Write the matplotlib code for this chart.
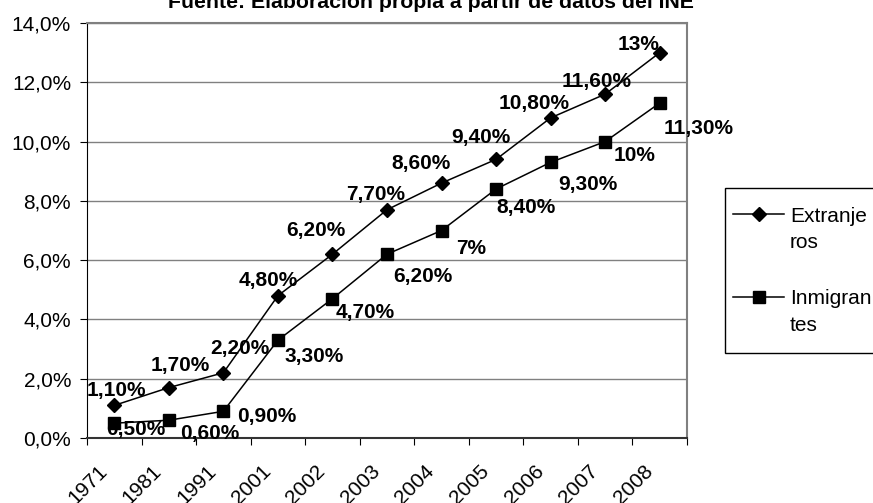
import matplotlib.pyplot as plt
import numpy as np
from matplotlib.lines import Line2D
from matplotlib.patches import Rectangle
from matplotlib.transforms import ScaledTranslation

plt.rcParams['font.family'] = ['Liberation Sans', 'DejaVu Sans']

years = ['1971', '1981', '1991', '2001', '2002', '2003', '2004',
         '2005', '2006', '2007', '2008']
extranjeros = [1.1, 1.7, 2.2, 4.8, 6.2, 7.7, 8.6, 9.4, 10.8, 11.6, 13.0]
inmigrantes = [0.5, 0.6, 0.9, 3.3, 4.7, 6.2, 7.0, 8.4, 9.3, 10.0, 11.3]
ext_labels = ['1,10%', '1,70%', '2,20%', '4,80%', '6,20%', '7,70%', '8,60%',
              '9,40%', '10,80%', '11,60%', '13%']
inm_labels = ['0,50%', '0,60%', '0,90%', '3,30%', '4,70%', '6,20%', '7%',
              '8,40%', '9,30%', '10%', '11,30%']
yticks = [0, 2, 4, 6, 8, 10, 12, 14]
ytick_labels = ['0,0%', '2,0%', '4,0%', '6,0%', '8,0%', '10,0%', '12,0%', '14,0%']

# label offsets in pixels (dx right, dy down)
ext_off = [(2, -15), (11, -22), (17, -24), (-10, -15), (-17, -24), (-11, -15),
           (-21, -20), (-15, -22), (-17, -14), (-9, -13), (-21, -8)]
inm_off = [(21, 6), (41, 13), (43, 5), (36, 16), (33, 14), (36, 22),
           (30, 18), (30, 19), (37, 22), (29, 14), (39, 25)]

W, H = 873, 503
fig = plt.figure(figsize=(W / 100, H / 100), dpi=100)
ax = fig.add_axes([87 / W, 1 - 438 / H, 600 / W, 415 / H])

x = np.arange(len(years))
ax.plot(x, extranjeros, color='black', lw=1.1, marker='D', ms=7, zorder=3)
ax.plot(x, inmigrantes, color='black', lw=1.1, marker='s', ms=8.5, zorder=3)

fs = 15
for xi, v, lab, (dx, dy) in zip(x, extranjeros, ext_labels, ext_off):
    ax.annotate(lab, (xi, v), xytext=(dx * 0.72, -dy * 0.72), textcoords='offset points',
                ha='center', va='center', fontsize=fs, fontweight='bold', zorder=4)
for xi, v, lab, (dx, dy) in zip(x, inmigrantes, inm_labels, inm_off):
    ax.annotate(lab, (xi, v), xytext=(dx * 0.72, -dy * 0.72), textcoords='offset points',
                ha='center', va='center', fontsize=fs, fontweight='bold', zorder=4)

ax.set_xlim(-0.5, len(years) - 0.5)
ax.set_ylim(0, 14)
ax.set_yticks(yticks)
ax.set_yticklabels(ytick_labels, fontsize=fs)
ax.yaxis.grid(True, color='#808080', lw=1)
ax.set_axisbelow(True)

ax.set_xticks(np.arange(-0.5, len(years), 1))
ax.set_xticklabels([])
ax.set_xticks(x, minor=True)
ax.set_xticklabels(years, minor=True, rotation=45, ha='right', va='center',
                   rotation_mode='anchor', fontsize=fs)
ax.tick_params(axis='x', which='minor', length=0, pad=22)
ax.tick_params(axis='both', which='major', direction='out', length=5, color='black')
ax.tick_params(axis='y', pad=6.5)
for lbl in ax.get_xticklabels(minor=True):
    lbl.set_transform(lbl.get_transform() + ScaledTranslation(-0.10, 0, fig.dpi_scale_trans))

for s in ['top', 'right']:
    ax.spines[s].set_color('#808080')
    ax.spines[s].set_linewidth(1.5)
ax.spines['left'].set_color('black')
ax.spines['bottom'].set_color('#333333')
ax.spines['bottom'].set_linewidth(1.5)

fig.text(431 / W, 1 - 8 / H, 'Fuente: Elaboración propia a partir de datos del INE',
         ha='center', va='baseline', fontsize=15.3, fontweight='bold')

# legend
fig.add_artist(Rectangle((725 / W, 1 - 353 / H), 0.3, 165 / H, transform=fig.transFigure,
                         facecolor='white', edgecolor='black', lw=1))
rows = [(('Extranje', 'ros'), 'D', 7, 214, (222, 248)),
        (('Inmigran', 'tes'), 's', 8.5, 297, (304, 331))]
for lines, mk, ms, yp, bases in rows:
    fy = 1 - yp / H
    fig.add_artist(Line2D([733 / W, 784 / W], [fy, fy], transform=fig.transFigure,
                          color='black', lw=1.1))
    fig.add_artist(Line2D([759 / W], [fy], transform=fig.transFigure, color='black',
                          marker=mk, ms=ms))
    for t, b in zip(lines, bases):
        fig.text(790 / W, 1 - b / H, t, ha='left', va='baseline', fontsize=fs)

fig.savefig('out.png', dpi=100)
